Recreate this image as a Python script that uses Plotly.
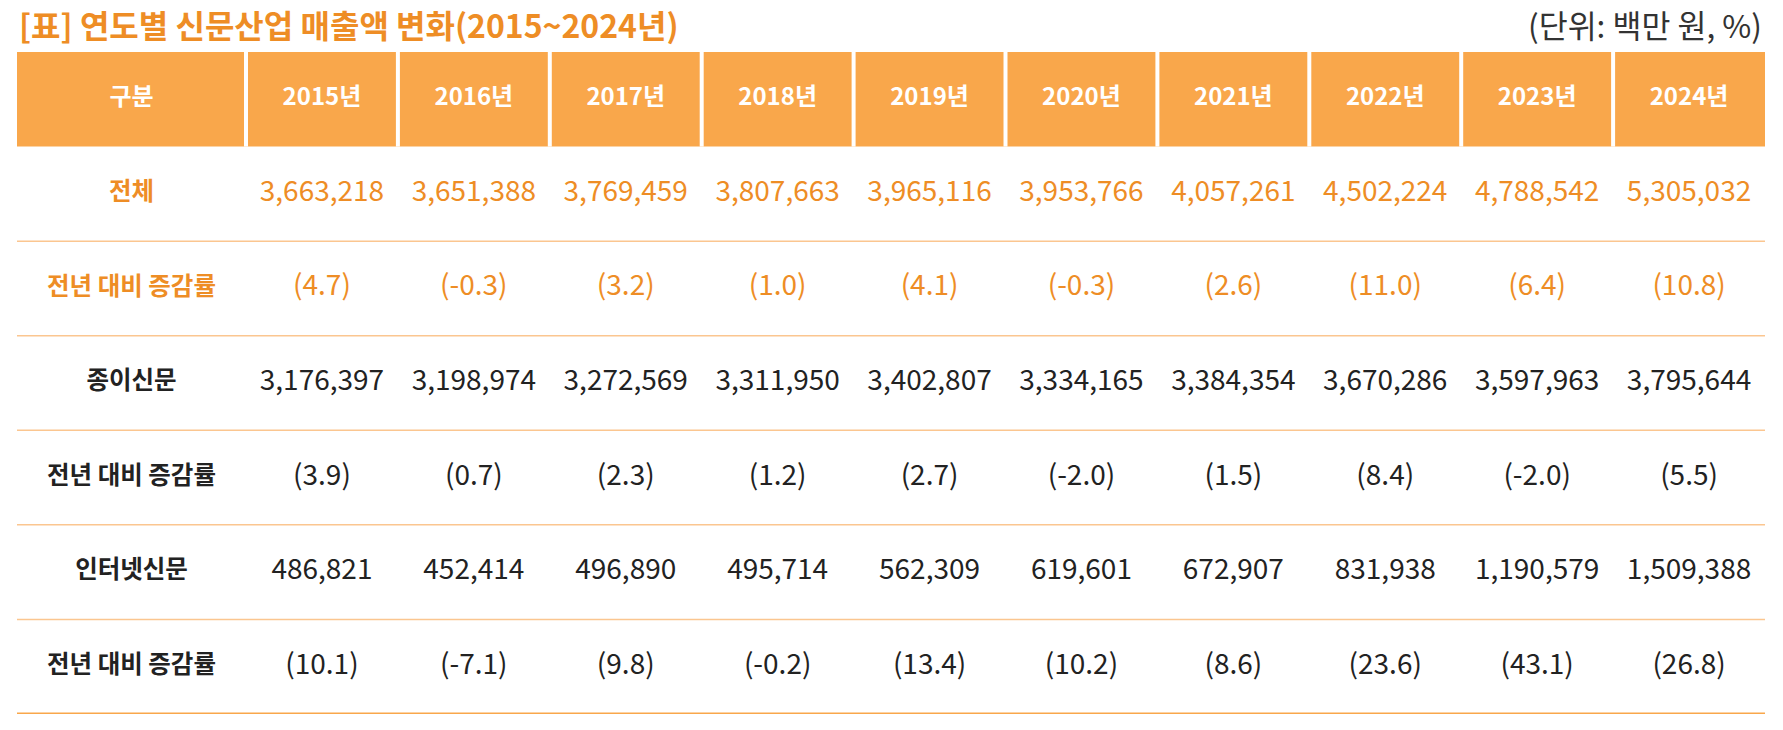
import plotly.graph_objects as go

FONT = 'Noto Sans CJK KR'

YEARS = [2015, 2016, 2017, 2018, 2019, 2020, 2021, 2022, 2023, 2024]
ROW_LABELS = ['전체', '전년 대비 증감률', '종이신문', '전년 대비 증감률', '인터넷신문', '전년 대비 증감률']

TOTAL = [3663218, 3651388, 3769459, 3807663, 3965116, 3953766, 4057261, 4502224, 4788542, 5305032]
TOTAL_GROWTH = [4.7, -0.3, 3.2, 1.0, 4.1, -0.3, 2.6, 11.0, 6.4, 10.8]
PAPER = [3176397, 3198974, 3272569, 3311950, 3402807, 3334165, 3384354, 3670286, 3597963, 3795644]
PAPER_GROWTH = [3.9, 0.7, 2.3, 1.2, 2.7, -2.0, 1.5, 8.4, -2.0, 5.5]
INTERNET = [486821, 452414, 496890, 495714, 562309, 619601, 672907, 831938, 1190579, 1509388]
INTERNET_GROWTH = [10.1, -7.1, 9.8, -0.2, 13.4, 10.2, 8.6, 23.6, 43.1, 26.8]

ORANGE_HEAD = '#F9A74B'
ORANGE_TEXT = '#EE8D25'
ORANGE_RULE = '#FBC690'
DARK = '#222222'

W, H = 1783, 730

# column widths in table units (first column is wider)
col_widths = [229] + [151.9] * len(YEARS)
edges = [0]
for w in col_widths:
    edges.append(edges[-1] + w)
centers = [(a + b) / 2 for a, b in zip(edges[:-1], edges[1:])]
table_w = edges[-1]


def amount(v):
    return f'{v:,}'


def growth(v):
    return f'({v:.1f})'


rows = [
    ([amount(v) for v in TOTAL], ORANGE_TEXT),
    ([growth(v) for v in TOTAL_GROWTH], ORANGE_TEXT),
    ([amount(v) for v in PAPER], DARK),
    ([growth(v) for v in PAPER_GROWTH], DARK),
    ([amount(v) for v in INTERNET], DARK),
    ([growth(v) for v in INTERNET_GROWTH], DARK),
]

fig = go.Figure()

# header
fig.add_trace(go.Scatter(
    x=centers, y=[0] * len(centers), mode='text',
    text=['구분'] + [f'{y}년' for y in YEARS],
    textfont=dict(family=FONT, size=24, color='white', weight='bold'),
    textposition='middle center', hoverinfo='skip',
))

# row labels
fig.add_trace(go.Scatter(
    x=[centers[0]] * len(ROW_LABELS), y=list(range(1, len(ROW_LABELS) + 1)), mode='text',
    text=ROW_LABELS,
    textfont=dict(family=FONT, size=24.5, weight='bold',
                  color=[c for _, c in rows]),
    textposition='middle center', hoverinfo='skip',
))

for i, (texts, color) in enumerate(rows, start=1):
    fig.add_trace(go.Scatter(
        x=centers[1:], y=[i] * len(texts), mode='text', text=texts,
        textfont=dict(family=FONT, size=28, color=color),
        textposition='middle center', hoverinfo='skip',
    ))

shapes = [dict(type='rect', xref='x', yref='y', x0=0, x1=table_w, y0=-0.5, y1=0.5,
               fillcolor=ORANGE_HEAD, line_width=0, layer='below')]
for e in edges[1:-1]:
    shapes.append(dict(type='line', xref='x', yref='y', x0=e, x1=e, y0=-0.5, y1=0.5,
                       line=dict(color='white', width=4), layer='below'))
n_rows = len(rows)
for k in range(1, n_rows + 1):
    last = k == n_rows
    shapes.append(dict(type='line', xref='x', yref='y', x0=0, x1=table_w, y0=k + 0.5, y1=k + 0.5,
                       line=dict(color=ORANGE_HEAD if last else ORANGE_RULE, width=3 if last else 1.5),
                       layer='below'))

fig.update_layout(
    width=W, height=H,
    margin=dict(l=0, r=0, t=0, b=0),
    paper_bgcolor='white', plot_bgcolor='white',
    showlegend=False, hovermode=False,
    shapes=shapes,
    xaxis=dict(domain=[17 / W, 1765 / W], range=[0, table_w], visible=False, fixedrange=True),
    yaxis=dict(domain=[1 - 714 / H, 1 - 52 / H], range=[n_rows + 0.5, -0.5], visible=False, fixedrange=True),
    annotations=[
        dict(text='[표] 연도별 신문산업 매출액 변화(2015~2024년)', xref='paper', yref='paper',
             x=17 / W, y=1 - 24 / H, xanchor='left', yanchor='middle', showarrow=False,
             font=dict(family=FONT, size=32, color=ORANGE_TEXT, weight='bold')),
        dict(text='(단위: 백만 원, %)', xref='paper', yref='paper',
             x=1764 / W, y=1 - 24 / H, xanchor='right', yanchor='middle', showarrow=False,
             font=dict(family=FONT, size=31.5, color='#333333')),
    ],
)

# drop the page's default body margin so the figure sits at the window's corner
fig.write_html('out.html', config={'displayModeBar': False},
               post_script="document.body.style.margin = '0';")
